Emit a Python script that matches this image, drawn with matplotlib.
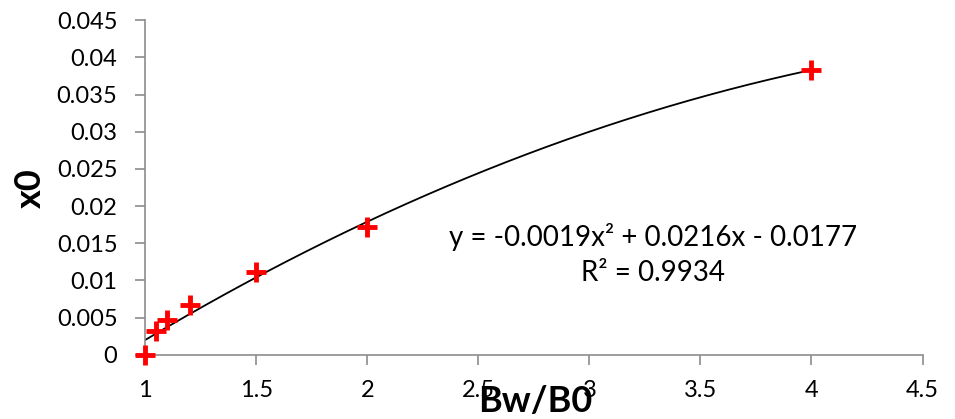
import matplotlib.pyplot as plt
import numpy as np

# data
bw_b0 = [1.0, 1.05, 1.1, 1.2, 1.5, 2.0, 4.0]
x0 = [0.0, 0.0032, 0.0047, 0.0067, 0.0111, 0.0172, 0.0383]
# trendline coefficients (from the equation label)
coef = [-0.0019, 0.0216, -0.0177]
r2 = 0.9934

xticks = [1, 1.5, 2, 2.5, 3, 3.5, 4, 4.5]
yticks = [0, 0.005, 0.01, 0.015, 0.02, 0.025, 0.03, 0.035, 0.04, 0.045]

plt.rcParams['font.family'] = ['Lato', 'DejaVu Sans']

fig = plt.figure(figsize=(9.55, 4.19), dpi=100)
ax = fig.add_axes([0.152, 0.153, 0.814, 0.799])

# trendline over the data range
xt = np.linspace(min(bw_b0), max(bw_b0), 200)
ax.plot(xt, np.polyval(coef, xt), color='black', lw=1.3, zorder=2)

# points
ax.plot(bw_b0, x0, linestyle='none', marker='+', color='red',
        markersize=15, markeredgewidth=3.5, zorder=3, clip_on=False)

ax.set_xlim(1, 4.5)
ax.set_ylim(0, 0.045)
ax.set_xticks(xticks)
ax.set_xticklabels(['1', '1.5', '2', '2.5', '3', '3.5', '4', '4.5'])
ax.set_yticks(yticks)
ax.set_yticklabels(['0', '0.005', '0.01', '0.015', '0.02', '0.025',
                    '0.03', '0.035', '0.04', '0.045'])

for s in ['top', 'right']:
    ax.spines[s].set_visible(False)
for s in ['left', 'bottom']:
    ax.spines[s].set_color('#8c8c8c')
    ax.spines[s].set_linewidth(1.2)
ax.tick_params(axis='both', colors='#8c8c8c', length=7, width=1.2,
               labelsize=17, labelcolor='black')
ax.tick_params(axis='x', pad=11)
ax.tick_params(axis='y', pad=13)

# axis titles (x title sits low, overlapping the tick label row like the original)
fig.text(535 / 955, 1 - 412 / 419, 'Bw/B0', ha='center', va='baseline',
         fontsize=26, fontweight='bold')
fig.text(30 / 955, 1 - 188 / 419, 'x0', ha='center', va='center',
         rotation=90, fontsize=26, fontweight='bold')

eq = 'y = -0.0019x² + 0.0216x - 0.0177\nR² = %.4f' % r2
ax.text(0.653, 0.30, eq, transform=ax.transAxes,
        ha='center', va='center', fontsize=20, linespacing=1.45)

plt.savefig('out.png', dpi=100)
